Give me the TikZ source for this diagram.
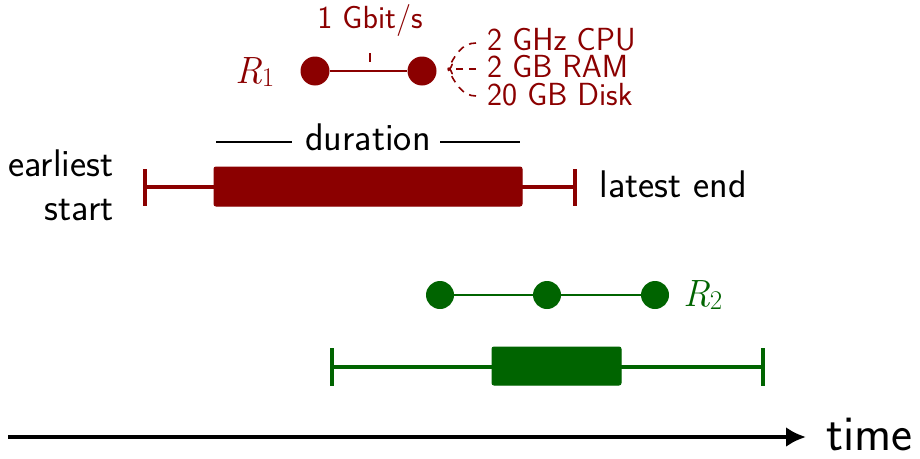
\documentclass[tikz,border=0pt]{standalone}
\usepackage{fontspec}
\usetikzlibrary{arrows.meta}
\definecolor{rred}{HTML}{8B0000}
\definecolor{ggreen}{HTML}{006400}
\newcommand{\Rsub}[1]{{\rmfamily\itshape\fontsize{38}{42}\selectfont R\kern-0.03em}\raisebox{-0.22em}{\rmfamily\fontsize{27}{30}\selectfont #1}}
\begin{document}
\begin{tikzpicture}[x=1pt,y=-1pt,
  big/.style={font=\sffamily\fontsize{38.5}{44}\selectfont},
  small/.style={font=\sffamily\fontsize{32}{36}\selectfont},
  lab/.style={font=\sffamily\fontsize{32}{27.5}\selectfont,text=rred,anchor=west,inner sep=0pt,align=left},
  dot/.style={circle,fill=#1,inner sep=0pt,minimum size=29pt},
  whisk/.style={draw=#1,line width=3.5pt},
  boxx/.style={fill=#1,draw=#1,rounded corners=2pt,line width=1pt},
  link/.style={draw=#1,line width=2.5pt},
  dsh/.style={rred,line width=1.6pt,dash pattern=on 7pt off 6pt},
  dtip/.style={-{To[length=5pt,width=11pt]}}]
\useasboundingbox (0,0) rectangle (920,458);
% R1
\node[dot=rred] (a1) at (315,71) {};
\node[dot=rred] (a2) at (422,71) {};
\draw[link=rred] (a1) -- (a2);
\node[text=rred,inner sep=0pt] (r1) at (255,72) {\Rsub{1}};
\coordinate (tk1) at (370,53);
\coordinate (tk2) at (370,62);
\draw[rred,line width=1.5pt] (tk1) -- (tk2);
\node[small,text=rred] (gb) at (370,20) {1 Gbit/s};
\node[lab] (res) at (487,67) {2 GHz CPU\\2 GB RAM\\20 GB Disk};
\coordinate (c1) at (476,43);
\coordinate (c2) at (476,69);
\coordinate (c3) at (476,96);
\coordinate (tip) at (448,69);
\draw[dsh] (c1) .. controls (462,43) and (455,55) .. (tip);
\draw[dsh,dtip] (c2) -- (tip);
\draw[dsh] (c3) .. controls (462,96) and (455,83) .. (tip);
% duration
\node[big] (dur) at (368,137) {duration};
\coordinate (d1) at (216,142);
\coordinate (d2) at (292,142);
\coordinate (d3) at (440,142);
\coordinate (d4) at (520,142);
\draw[line width=1.5pt] (d1) -- (d2);
\draw[line width=1.5pt] (d3) -- (d4);
% red interval
\coordinate (rs) at (145,187);
\coordinate (re) at (575,187);
\draw[whisk=rred] (rs) -- (re);
\draw[whisk=rred] (145,169) -- (145,206);
\draw[whisk=rred] (575,169) -- (575,206);
\draw[boxx=rred] (214,167) rectangle (522,206);
\node[big,align=right,anchor=east] (es) at (117,185) {earliest\\start};
\node[big,anchor=west] (le) at (596,184) {latest end};
% R2
\node[dot=ggreen,minimum size=28pt] (b1) at (440,295) {};
\node[dot=ggreen,minimum size=28pt] (b2) at (547,295) {};
\node[dot=ggreen,minimum size=28pt] (b3) at (655,295) {};
\draw[link=ggreen] (b1) -- (b2) -- (b3);
\node[text=ggreen,inner sep=0pt] (r2) at (703,295) {\Rsub{2}};
% green interval
\draw[whisk=ggreen] (332,367) -- (763,367);
\draw[whisk=ggreen] (332,348) -- (332,386);
\draw[whisk=ggreen] (763,348) -- (763,386);
\draw[boxx=ggreen] (492,347) rectangle (621,385);
% time axis
\node[font=\sffamily\fontsize{50}{56}\selectfont,anchor=west,inner sep=0pt] (time) at (826,434) {time};
\coordinate (t0) at (8,437);
\coordinate (t1) at (806,437);
\draw[line width=4.5pt,-{Latex[length=20pt,width=20pt]}] (t0) -- (t1);
\end{tikzpicture}
\end{document}
